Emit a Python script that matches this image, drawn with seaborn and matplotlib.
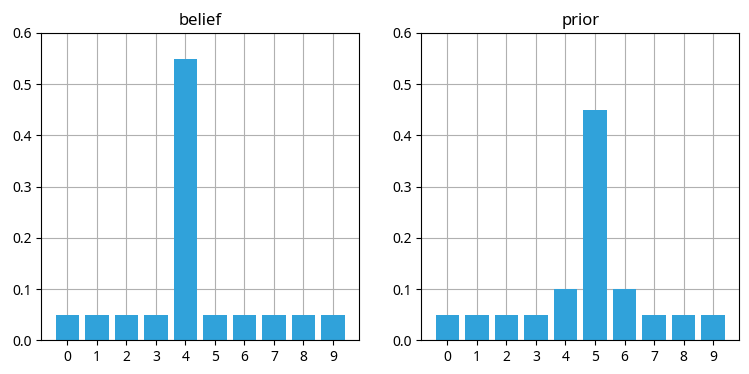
import matplotlib
matplotlib.use("Agg")
import matplotlib.pyplot as plt
import seaborn as sns
import pandas as pd

positions = list(range(10))
belief = [0.05, 0.05, 0.05, 0.05, 0.55, 0.05, 0.05, 0.05, 0.05, 0.05]
prior = [0.05, 0.05, 0.05, 0.05, 0.1, 0.45, 0.1, 0.05, 0.05, 0.05]
titles = ['belief', 'prior']

plt.rcParams['font.family'] = ['Noto Sans', 'DejaVu Sans']
bar_color = '#30a2da'

fig, axes = plt.subplots(1, 2, figsize=(7.49, 3.74), dpi=100)
for ax, vals, title in zip(axes, [belief, prior], titles):
    df = pd.DataFrame({'pos': positions, 'p': vals})
    sns.barplot(data=df, x='pos', y='p', color=bar_color, saturation=1,
                width=0.8, ax=ax)
    ax.set_axisbelow(True)
    ax.grid(True, color='#b0b0b0', linewidth=0.8)
    ax.set_ylim(0, 0.6)
    # same padding matplotlib's default margins give
    ax.set_xlim(-0.89, 9.89)
    ax.set_title(title)
    ax.set_xlabel('')
    ax.set_ylabel('')

plt.subplots_adjust(left=0.055, right=0.987, top=0.912, bottom=0.09, wspace=0.195)
plt.savefig('out.png')
